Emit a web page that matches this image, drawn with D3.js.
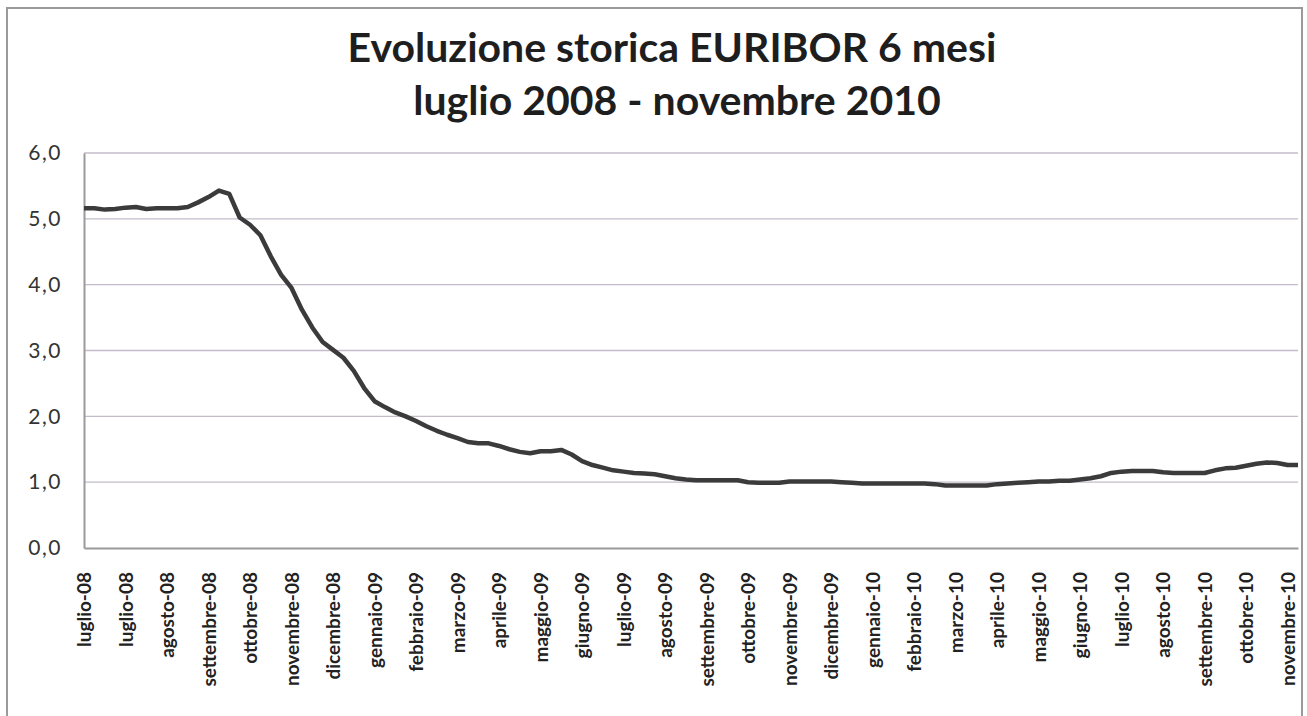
<!DOCTYPE html>
<html>
<head>
<meta charset="utf-8">
<script src="https://cdnjs.cloudflare.com/ajax/libs/d3/7.8.5/d3.min.js"></script>
<style>
  body { margin: 0; background: #fff; }
  text { font-family: Lato, "Open Sans", sans-serif; }
</style>
</head>
<body>
<div id="chart"></div>
<script>
// etichette dell'asse x (una ogni 4 punti)
var labels = ["luglio-08", "luglio-08", "agosto-08", "settembre-08", "ottobre-08", "novembre-08",
  "dicembre-08", "gennaio-09", "febbraio-09", "marzo-09", "aprile-09", "maggio-09", "giugno-09",
  "luglio-09", "agosto-09", "settembre-09", "ottobre-09", "novembre-09", "dicembre-09",
  "gennaio-10", "febbraio-10", "marzo-10", "aprile-10", "maggio-10", "giugno-10", "luglio-10",
  "agosto-10", "settembre-10", "ottobre-10", "novembre-10"]

// valori euribor 6 mesi (circa settimanali)
var euribor = [5.16, 5.16, 5.14, 5.15, 5.17, 5.18, 5.15, 5.16, 5.16, 5.16,
  5.18, 5.25, 5.33, 5.43, 5.38, 5.02, 4.91, 4.75, 4.43, 4.15,
  3.95, 3.62, 3.35, 3.13, 3.01, 2.89, 2.69, 2.43, 2.23, 2.14,
  2.06, 2.00, 1.93, 1.85, 1.78, 1.72, 1.67, 1.61, 1.59, 1.59,
  1.55, 1.50, 1.46, 1.44, 1.47, 1.47, 1.49, 1.42, 1.32, 1.26,
  1.22, 1.18, 1.16, 1.14, 1.13, 1.12, 1.09, 1.06, 1.04, 1.03,
  1.03, 1.03, 1.03, 1.03, 1.00, 0.99, 0.99, 0.99, 1.01, 1.01,
  1.01, 1.01, 1.01, 1.00, 0.99, 0.98, 0.98, 0.98, 0.98, 0.98,
  0.98, 0.98, 0.97, 0.95, 0.95, 0.95, 0.95, 0.95, 0.97, 0.98,
  0.99, 1.00, 1.01, 1.01, 1.02, 1.02, 1.04, 1.06, 1.09, 1.14,
  1.16, 1.17, 1.17, 1.17, 1.15, 1.14, 1.14, 1.14, 1.14, 1.18,
  1.21, 1.22, 1.25, 1.28, 1.30, 1.29, 1.26, 1.26]

var yTicks = [0, 1, 2, 3, 4, 5, 6]

var W = 1307, H = 716
var margin = {top: 153, right: 9, bottom: 168, left: 84}

var svg = d3.select("#chart").append("svg")
  .attr("width", W)
  .attr("height", H)

// cornice esterna
svg.append("rect")
  .attr("x", 7).attr("y", 8)
  .attr("width", 1295).attr("height", 720)
  .attr("fill", "none")
  .attr("stroke", "#9a9a9a")
  .attr("stroke-width", 2)

svg.append("text")
  .attr("x", 672).attr("y", 62)
  .attr("text-anchor", "middle")
  .style("font-size", "41px").style("font-weight", "bold").style("fill", "#1e1e1e")
  .text("Evoluzione storica EURIBOR 6 mesi")

svg.append("text")
  .attr("x", 677).attr("y", 115)
  .attr("text-anchor", "middle")
  .style("font-size", "41px").style("font-weight", "bold").style("fill", "#1e1e1e")
  .text("luglio 2008 - novembre 2010")

var x = d3.scaleLinear()
  .domain([0, euribor.length - 1])
  .range([margin.left, W - margin.right])

var y = d3.scaleLinear()
  .domain([0, 6])
  .range([H - margin.bottom, margin.top])

var it = d3.formatLocale({decimal: ",", thousands: ".", grouping: [3], currency: ["", "€"]})

// griglia
svg.selectAll(".grid").data(yTicks.filter(d => d > 0))
  .enter().append("line")
  .attr("class", "grid")
  .attr("x1", margin.left).attr("x2", W - margin.right)
  .attr("y1", d => y(d)).attr("y2", d => y(d))
  .attr("stroke", "#c4bccb")
  .attr("stroke-width", 1.3)

var yAxis = svg.append("g")
  .attr("transform", "translate(" + margin.left + ",0)")
  .call(d3.axisLeft(y).tickValues(yTicks).tickFormat(it.format(".1f")).tickSize(0).tickPadding(22))
yAxis.select(".domain").attr("stroke", "#9a9a9a").attr("stroke-width", 2)
yAxis.selectAll("text").style("font-size", "21px").style("fill", "#333")
  .style("letter-spacing", "1.5px").style("font-family", "Lato, sans-serif")

var xAxis = svg.append("g")
  .attr("transform", "translate(0," + (H - margin.bottom) + ")")
  .call(d3.axisBottom(x).tickValues(labels.map((d, i) => i * 4)).tickFormat((d, i) => labels[i]).tickSize(0).tickSizeOuter(0))
xAxis.select(".domain").attr("stroke", "#9a9a9a").attr("stroke-width", 2)
xAxis.selectAll("text")
  .attr("transform", "rotate(-90)")
  .attr("text-anchor", "end")
  .attr("x", -24).attr("y", 0).attr("dy", "0.35em")
  .style("font-size", "19px").style("font-weight", "bold").style("fill", "#222")
  .style("font-family", "Lato, sans-serif")

var line = d3.line()
  .x((d, i) => x(i))
  .y(d => y(d))

svg.append("path")
  .datum(euribor)
  .attr("d", line)
  .attr("fill", "none")
  .attr("stroke", "#3b3b3b")
  .attr("stroke-width", 4.5)
  .attr("stroke-linejoin", "round")
</script>
</body>
</html>
